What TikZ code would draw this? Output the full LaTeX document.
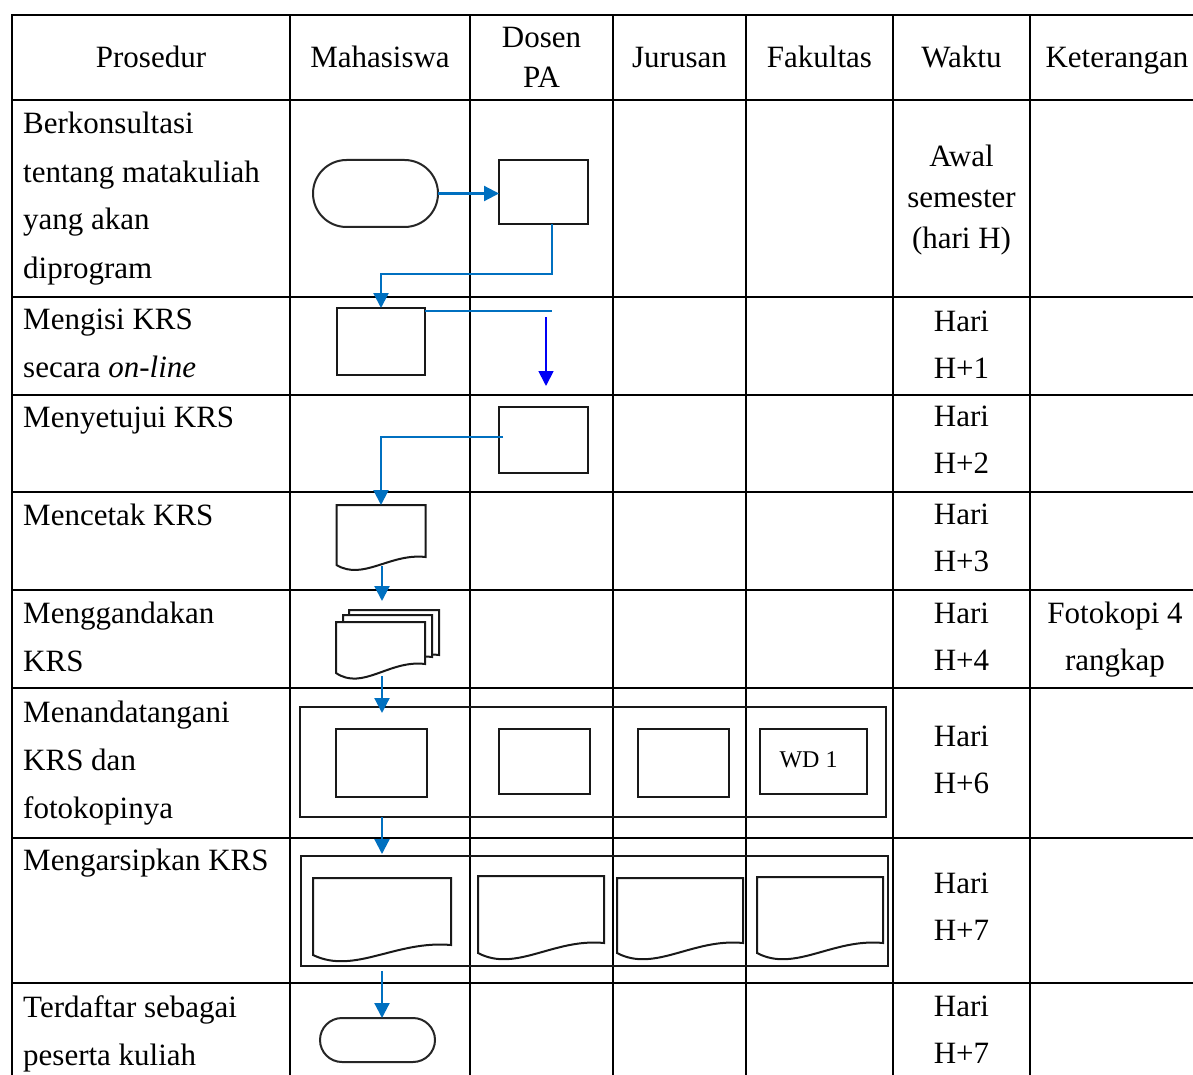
\documentclass[tikz,border=0pt]{standalone}
\usepackage{fontspec}
\setmainfont{Liberation Serif}
\usetikzlibrary{arrows.meta,calc,shapes.misc}
\definecolor{flowblue}{RGB}{0,112,192}
\definecolor{deepblue}{RGB}{0,0,245}
\newcommand{\krsdoc}[3][]{\draw[shp,#1] (#2.north west) -- (#2.north east) -- (#2.south east)
  .. controls ($(#2.south west)!0.6!(#2.south east)+(0,-0.5*#3)$) and ($(#2.south west)!0.3!(#2.south east)+(0,3*#3)$) .. ($(#2.south west)+(0,#3)$) -- cycle;}
\begin{document}
\begin{tikzpicture}[x=1pt,y=-1pt,
  grid/.style={line width=1.8pt, black, line cap=rect},
  shp/.style={line width=2pt, draw=black!90, fill=white},
  box/.style={rectangle, draw=black!90, line width=2pt, fill=white, inner sep=0pt, outer sep=0pt},
  term/.style={rounded rectangle, draw=black!85, line width=2pt, fill=white, inner sep=0pt, outer sep=0pt},
  area/.style={rectangle, draw=none, inner sep=0pt, outer sep=0pt},
  frame/.style={rectangle, draw=black!90, line width=1.8pt, inner sep=0pt, outer sep=0pt},
  flow/.style={draw=flowblue, line width=2.2pt, -{Triangle[length=15pt,width=15pt]}},
  flowline/.style={draw=flowblue, line width=2.2pt},
  txt/.style={font=\fontsize{31pt}{48pt}\selectfont, inner sep=0pt, anchor=base west, align=left},
  ctxt/.style={font=\fontsize{31pt}{47pt}\selectfont, inner sep=0pt, anchor=base, align=center}]
\fill[white] (0,0) rectangle (1193,1075);
\useasboundingbox (0,0) rectangle (1193,1075);
% grid
\foreach \y in {15,100,297,395,492,590,688,838,983} \draw[grid] (12,\y) -- (1200,\y);
\foreach \x in {12,290,470,613,746,893,1030} \draw[grid] (\x,15) -- (\x,1080);
% header (base anchor = baseline of last line)
\node[ctxt] (hP) at (151,68) {Prosedur};
\node[ctxt] (hM) at (380,68) {Mahasiswa};
\node[ctxt, font=\fontsize{31pt}{40pt}\selectfont] (hD) at (541.5,88) {Dosen\\PA};
\node[ctxt] (hJ) at (679.5,68) {Jurusan};
\node[ctxt] (hF) at (819.5,68) {Fakultas};
\node[ctxt] (hW) at (961.5,68) {Waktu};
\node[ctxt] (hK) at (1117,68) {Keterangan};
% procedure column
\node[txt] (p1) at (23,278) {Berkonsultasi\\tentang matakuliah\\yang akan\\diprogram};
\node[txt] (p2) at (23,377) {Mengisi KRS\\secara \textit{on-line}};
\node[txt] (p3) at (23,427) {Menyetujui KRS};
\node[txt] (p4) at (23,525) {Mencetak KRS};
\node[txt] (p5) at (23,671) {Menggandakan\\KRS};
\node[txt] (p6) at (23,818) {Menandatangani\\KRS dan\\fotokopinya};
\node[txt] (p7) at (23,870) {Mengarsipkan KRS};
\node[txt] (p8) at (23,1065) {Terdaftar sebagai\\peserta kuliah};
% waktu column
\node[ctxt, font=\fontsize{31pt}{41pt}\selectfont] (w1) at (961.5,249) {Awal\\semester\\(hari H)};
\node[ctxt] (w2) at (961.5,378) {Hari\\H+1};
\node[ctxt] (w3) at (961.5,473) {Hari\\H+2};
\node[ctxt] (w4) at (961.5,571) {Hari\\H+3};
\node[ctxt] (w5) at (961.5,670) {Hari\\H+4};
\node[ctxt] (w6) at (961.5,793) {Hari\\H+6};
\node[ctxt] (w7) at (961.5,940) {Hari\\H+7};
\node[ctxt] (w8) at (961.5,1063) {Hari\\H+7};
\node[ctxt] (k5) at (1115,670) {Fotokopi 4\\rangkap};
% row 1
\node[term, minimum width=125pt, minimum height=67pt] (t1) at (375.5,193.5) {};
\node[box, minimum width=89pt, minimum height=64pt] (d1) at (543.5,192) {};
% row 2
\node[box, minimum width=88pt, minimum height=67pt] (m2) at (381,341.5) {};
% row 3
\node[box, minimum width=89pt, minimum height=66pt] (d3) at (543.5,440) {};
% row 4
\node[area, minimum width=89pt, minimum height=52pt] (doc4) at (381,531) {};
\krsdoc{doc4}{8}
% row 5
\node[area, minimum width=90pt, minimum height=45pt] (m5a) at (394,632.5) {};
\node[area, minimum width=89pt, minimum height=42pt] (m5b) at (387.5,636) {};
\node[area, minimum width=89pt, minimum height=42pt] (m5c) at (380.5,643) {};
\krsdoc{m5a}{9}
\krsdoc{m5b}{9}
\krsdoc{m5c}{9}
% row 6
\node[frame, minimum width=586pt, minimum height=110pt] (f6) at (593,762) {};
\node[box, minimum width=91pt, minimum height=68pt] (r6a) at (381.5,763) {};
\node[box, minimum width=91pt, minimum height=65pt] (r6b) at (544.5,761.5) {};
\node[box, minimum width=91pt, minimum height=68pt] (r6c) at (683.5,763) {};
\node[box, minimum width=107pt, minimum height=65pt, font=\fontsize{24pt}{28pt}\selectfont] (r6d) at (813.5,761.5) {\hspace*{-10pt}\raisebox{3pt}{WD 1}};
% row 7
\node[frame, minimum width=587pt, minimum height=110pt] (f7) at (594.5,911) {};
\node[area, minimum width=138pt, minimum height=67pt] (doc7a) at (382,911.5) {};
\node[area, minimum width=126pt, minimum height=67pt] (doc7b) at (541,909.5) {};
\node[area, minimum width=126pt, minimum height=65pt] (doc7c) at (680,910.5) {};
\node[area, minimum width=126pt, minimum height=66pt] (doc7d) at (820,910) {};
\krsdoc{doc7a}{10}
\krsdoc{doc7b}{10}
\krsdoc{doc7c}{10}
\krsdoc{doc7d}{10}
% row 8
\node[term, minimum width=115pt, minimum height=44pt] (t8) at (377.5,1040) {};
% connectors
\coordinate (colM) at (382,0);
\coordinate (k1) at (552,274);
\coordinate (k2) at (552,311);
\coordinate (b1) at (546,317);
\coordinate (b2) at (546,386);
\coordinate (k3) at (503,437);
\coordinate (e4) at (382,601);
\draw[flow] (t1.east) -- (t1.east -| d1.west);
\draw[flow] (k1 |- d1.south) -- (k1) -| (m2.north);
\draw[flowline] (m2.north east |- k2) -- (k2);
\draw[flow, draw=deepblue, line width=1.8pt] (b1) -- (b2);
\draw[flow] (k3) -| (doc4.north);
\draw[flow] ($(doc4.south -| colM)+(0,9)$) -- (e4);
\draw[flow] ($(m5c.south -| colM)+(0,12)$) -- ($(f6.north -| colM)+(0,6)$);
\draw[flow] (f6.south -| colM) -- ($(f7.north -| colM)+(0,-2)$);
\draw[flow] ($(f7.south -| colM)+(0,5)$) -- (t8.north -| colM);
\end{tikzpicture}
\end{document}
